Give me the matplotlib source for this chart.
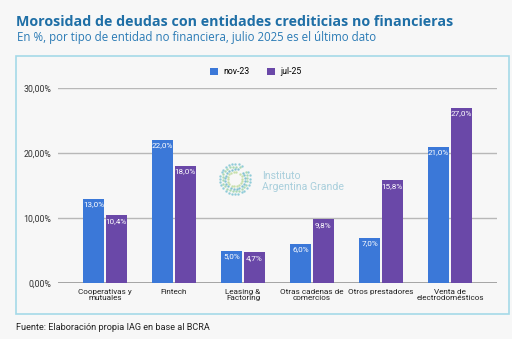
import numpy as np
import matplotlib.pyplot as plt
from matplotlib.patches import Rectangle

# Datos
categorias = ["Cooperativas y\nmutuales", "Fintech", "Leasing &\nFactoring",
              "Otras cadenas de\ncomercios", "Otros prestadores", "Venta de\nelectrodomésticos"]
nov23 = [13.0, 22.0, 5.0, 6.0, 7.0, 21.0]
jul25 = [10.4, 18.0, 4.7, 9.8, 15.8, 27.0]
series = ["nov-23", "jul-25"]
yticks = [0, 10, 20, 30]

AZUL = "#3b78d8"
VIOLETA = "#6a48a8"
BG = "#f7f7f7"

plt.rcParams['font.family'] = ['Roboto', 'DejaVu Sans']

fig = plt.figure(figsize=(5.12, 3.39), dpi=100)
fig.patch.set_facecolor(BG)
W, H = 512, 339

def fx(px):
    return px / W

def fy(py):
    return 1 - py / H

# Titulo y subtitulo
fig.text(fx(16), fy(22), "Morosidad de deudas con entidades crediticias no financieras",
         fontsize=10.3, fontweight="bold", color="#1f6fa6", family="Open Sans", va="center")
fig.text(fx(17), fy(38), "En %, por tipo de entidad no financiera, julio 2025 es el último dato",
         fontsize=8.3, color="#2b7bb5", family="Open Sans", va="center")

# Marco
fig.patches.append(Rectangle((fx(16), fy(314)), fx(493), (314 - 56) / H,
                             transform=fig.transFigure, fill=False,
                             edgecolor="#a5d9e8", linewidth=1.2))

# Fuente
fig.text(fx(16), fy(327), "Fuente: Elaboración propia IAG en base al BCRA",
         fontsize=6.6, color="#222222", va="center")

ax = fig.add_axes([fx(58), fy(283), fx(497 - 58), (283 - 88) / H])
ax.set_facecolor(BG)
x = np.arange(len(categorias))
w = 0.31
b1 = ax.bar(x - w / 2 - 0.01, nov23, w, color=AZUL, label=series[0], zorder=3)
b2 = ax.bar(x + w / 2 + 0.01, jul25, w, color=VIOLETA, label=series[1], zorder=3)

for bars, vals in ((b1, nov23), (b2, jul25)):
    for r, v in zip(bars, vals):
        ax.text(r.get_x() + r.get_width() / 2, v - 0.4, f"{v:.1f}%".replace(".", ","),
                ha="center", va="top", fontsize=5.9, color="white", zorder=4)

ax.set_xlim(-0.68, 5.68)
ax.set_ylim(0, 30)
ax.set_yticks(yticks)
ax.set_yticklabels([f"{t:.2f}%".replace(".", ",") for t in yticks], fontsize=6.3, color="#333333")
ax.set_xticks(x)
ax.set_xticklabels(categorias, fontsize=5.9, color="#222222", linespacing=1.0)
ax.tick_params(axis="y", length=0, pad=5)
ax.tick_params(axis="x", length=0, pad=4)
ax.grid(axis="y", color="#b8b8b8", linewidth=1, zorder=0)
for s in ax.spines.values():
    s.set_visible(False)
ax.axhline(0, color="#999999", linewidth=1.2, zorder=2)

leg = fig.legend(handles=[b1, b2], labels=series, loc="center",
                 bbox_to_anchor=(fx(256), fy(72)), ncol=2, frameon=False,
                 fontsize=6.3, handlelength=0.9, handleheight=0.9,
                 columnspacing=2.0, handletextpad=0.6)

# Marca de agua (logo)
cx, cy = fx(235), fy(179)
for k, rr in enumerate([15, 12.5, 10, 7.5]):
    ang = np.linspace(0.35 * np.pi, 2.15 * np.pi, 26 - 3 * k) + 0.1 * k
    xs = cx + rr * np.cos(ang) / W
    ys = cy + rr * np.sin(ang) / H
    fig.add_artist(plt.Line2D(xs, ys, linestyle="none", marker="o", markersize=0.8,
                              color=["#8ccad8", "#a8d8b0", "#7fc0d0", "#c5dfa8"][k], alpha=0.85,
                              transform=fig.transFigure))
fig.text(fx(262), fy(176), "Instituto", fontsize=7.6, color="#a9cfdc", va="center")
fig.text(fx(262), fy(187), "Argentina Grande", fontsize=7.6, color="#a9cfdc", va="center")

fig.savefig("out.png", dpi=100, facecolor=BG)
